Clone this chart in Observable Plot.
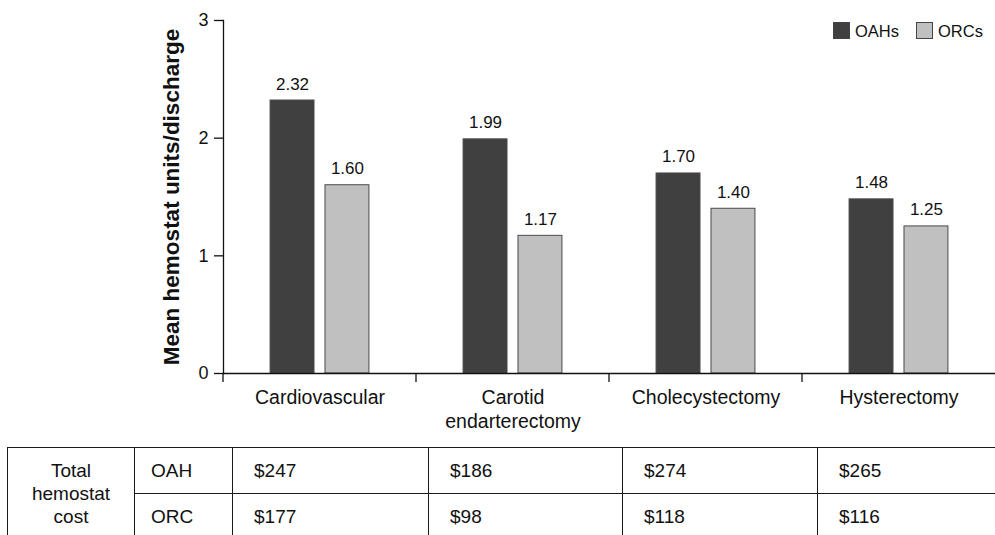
<!DOCTYPE html>
<html><head><meta charset="utf-8">
<script src="https://cdn.jsdelivr.net/npm/d3@7"></script>
<script src="https://cdn.jsdelivr.net/npm/@observablehq/plot@0.6"></script>
<style>
body{margin:0;overflow:hidden;background:#fff;font-family:"Liberation Sans",Arial,sans-serif;color:#111}
#wrap{position:relative;width:995px;height:440px}
#chart svg{display:block}
#legend{position:absolute;top:22px;left:833px;display:flex;align-items:center;font-size:16.5px;line-height:16px;white-space:nowrap}
#legend .sw{display:inline-block;width:15px;height:15px;border:1px solid #444;margin-right:5px}
#legend .lab{margin-right:17px}
table{border-collapse:collapse;margin-left:7px;margin-top:7px;table-layout:fixed;font-size:19px;width:1010px}
td{border:1.5px solid #1a1a1a;height:45px;padding:0;vertical-align:middle}
td.title{text-align:center;line-height:23px}
td.rl{padding-left:16px}
td.cost{padding-left:21px}
</style></head><body>
<div id="wrap"><div id="chart"></div><div id="legend"></div></div>
<table id="tbl"></table>
<script>
const categories = ["Cardiovascular", "Carotid endarterectomy", "Cholecystectomy", "Hysterectomy"];
const tickLabels = ["Cardiovascular", "Carotid\nendarterectomy", "Cholecystectomy", "Hysterectomy"];
const series = ["OAHs", "ORCs"];
const oahValues = [2.32, 1.99, 1.70, 1.48];
const orcValues = [1.60, 1.17, 1.40, 1.25];
const yTicks = [0, 1, 2, 3];
const yLabel = "Mean hemostat units/discharge";
const costTitle = ["Total", "hemostat", "cost"];
const costRowLabels = ["OAH", "ORC"];
const oahCost = ["$247", "$186", "$274", "$265"];
const orcCost = ["$177", "$98", "$118", "$116"];
const colors = ["#404040", "#c0c0c0"];

const data = categories.flatMap((c, i) => [
  {category: c, series: series[0], value: oahValues[i]},
  {category: c, series: series[1], value: orcValues[i]}
]);

// a short tick below the x axis at the left edge of each category band (drawn once per facet)
function boundaryTick(index, scales, values, dimensions) {
  const y0 = scales.y(0);
  const x = dimensions.marginLeft;
  return d3.create("svg:line")
    .attr("stroke", "#111").attr("stroke-width", 1.3)
    .attr("x1", x).attr("x2", x)
    .attr("y1", y0).attr("y2", y0 + 9)
    .node();
}

const chart = Plot.plot({
  width: 995, height: 440,
  marginLeft: 222, marginRight: 0, marginTop: 20, marginBottom: 67,
  style: {fontFamily: "Liberation Sans, Arial, sans-serif", color: "#111", background: "#fff", overflow: "visible"},
  fx: {domain: categories, padding: 0, label: null},
  x: {domain: series, paddingInner: 0.2, paddingOuter: 0.857, axis: null, round: false},
  y: {domain: [0, 3], axis: null},
  color: {domain: series, range: colors},
  marks: [
    Plot.barY(data, {fx: "category", x: "series", y: "value", fill: "series", stroke: "#4a4a4a", strokeWidth: 1}),
    Plot.text(data, {fx: "category", x: "series", y: "value", text: d => d.value.toFixed(2), lineAnchor: "bottom", dy: -11, fontSize: 17, fill: "#111"}),
    Plot.ruleY([0], {stroke: "#111", strokeWidth: 1.3}),
    Plot.frame({anchor: "left", facetAnchor: "left", stroke: "#111", strokeWidth: 1.3}),
    Plot.axisY({ticks: yTicks, tickSize: 9, tickPadding: 6, fontSize: 18, tickFormat: d => d, label: null, strokeWidth: 1.3}),
    Plot.axisY({ticks: [], label: yLabel, labelArrow: "none", labelAnchor: "center", labelOffset: 60, fontSize: 22.5, fontWeight: "bold"}),
    Plot.axisFx({anchor: "bottom", tickSize: 0, tickPadding: 14, fontSize: 19.5, lineHeight: 1.22, label: null,
      tickFormat: d => tickLabels[categories.indexOf(d)]}),
    boundaryTick
  ]
});
document.getElementById("chart").append(chart);

// legend
const legend = document.getElementById("legend");
series.forEach((s, i) => {
  const sw = document.createElement("span");
  sw.className = "sw";
  sw.style.background = colors[i];
  legend.append(sw);
  const lab = document.createElement("span");
  lab.className = "lab";
  lab.textContent = s;
  legend.append(lab);
});

// table
const tbl = document.getElementById("tbl");
const cg = document.createElement("colgroup");
[127, 98, 196, 194, 195, 200].forEach(w => {
  const col = document.createElement("col");
  col.style.width = w + "px";
  cg.append(col);
});
tbl.append(cg);
[oahCost, orcCost].forEach((row, r) => {
  const tr = document.createElement("tr");
  if (r === 0) {
    const td = document.createElement("td");
    td.rowSpan = 2;
    td.className = "title";
    td.innerHTML = costTitle.join("<br>");
    tr.append(td);
  }
  const rl = document.createElement("td");
  rl.className = "rl";
  rl.textContent = costRowLabels[r];
  tr.append(rl);
  row.forEach(v => {
    const td = document.createElement("td");
    td.className = "cost";
    td.textContent = v;
    tr.append(td);
  });
  tbl.append(tr);
});
</script>
</body></html>
